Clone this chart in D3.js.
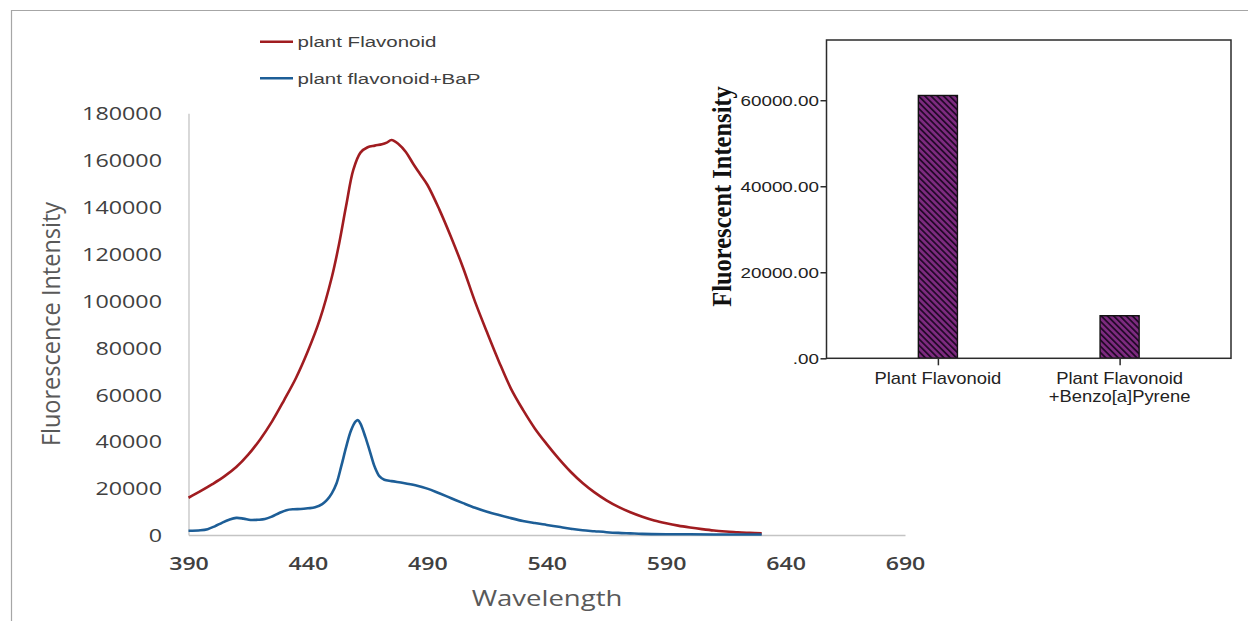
<!DOCTYPE html>
<html>
<head>
<meta charset="utf-8">
<script src="https://cdn.jsdelivr.net/npm/d3@7"></script>
<style>
  html, body { margin: 0; padding: 0; background: #fff; }
  svg { display: block; }
</style>
</head>
<body>
<svg id="chart" width="1248" height="621"></svg>
<script>
// ---- Emission spectra (wavelength in nm, intensity in counts) ----
const wlFlavonoid = [390,395,400,405,410,415,420,425,430,435,440,445,450,453,456,459,462,465,468,471,473,475,478,481,484,487,490,495,500,505,510,515,520,525,530,535,540,545,550,555,560,565,570,575,580,585,590,595,600,605,610,615,620,625,630];
const flavonoid = [15900,18700,21700,25000,29000,34300,40800,48500,57500,67000,78500,92000,110000,124000,140500,155800,163200,165500,166200,166800,167500,168600,166800,163500,158600,154000,149500,139000,127000,114000,99500,86500,74000,62500,53500,45500,38800,32600,27000,22200,18200,14800,12000,9700,7800,6200,5000,4000,3200,2500,1900,1500,1200,900,700];

const wlFlavonoidBaP = [390,395,398,401,404,407,410,413,416,419,422,425,428,431,434,437,440,443,446,448,450,452,454,456,458,460,461,462,464,466,468,470,472,475,480,485,490,495,500,505,510,515,520,525,530,535,540,545,550,555,560,565,570,575,580,590,600,615,630];
const flavonoidBaP = [1800,2000,2500,3700,5200,6500,7300,7000,6400,6500,6800,7900,9400,10600,11000,11100,11400,11800,13200,15000,17800,22100,29500,37500,44500,48500,49000,47500,42000,35500,29000,25000,23600,23000,22200,21200,19800,17800,15700,13600,11600,9900,8500,7200,6000,5100,4300,3500,2700,2000,1600,1200,900,700,500,350,300,200,200];

const seriesNames = ["plant Flavonoid", "plant flavonoid+BaP"];
const seriesColors = ["#a01c20", "#1d5e97"];

const xTickValues = [390,440,490,540,590,640,690];
const yTickValues = [0,20000,40000,60000,80000,100000,120000,140000,160000,180000];

// ---- Inset: mean fluorescent intensity per sample ----
const barCategories = [["Plant Flavonoid"], ["Plant Flavonoid", "+Benzo[a]Pyrene"]];
const barValues = [61100, 9900];
const barTickValues = [0, 20000, 40000, 60000];

const svg = d3.select("#chart");

// outer chart border
svg.append("path")
  .attr("d", "M11.5,621V10.5H1248")
  .attr("fill", "none")
  .attr("stroke", "#a6a6a6")
  .attr("stroke-width", 1.2);

// helper: place a text node with a horizontal stretch about its anchor point
function placeText(sel, x, y, sx, rot) {
  sel.attr("transform", `translate(${x},${y}) scale(${sx},1)` + (rot ? ` rotate(${rot})` : ""));
  return sel;
}

// ================= Spectra chart =================
const sansFont = "'Open Sans', 'Noto Sans', sans-serif";
const x = d3.scaleLinear().domain([390, 690]).range([188.5, 905]);
const y = d3.scaleLinear().domain([0, 180000]).range([535, 113.3]);

const gy = svg.append("g").attr("transform", "translate(188.5,0)")
  .call(d3.axisLeft(y).tickValues(yTickValues).tickSize(0).tickSizeOuter(0).tickFormat(d3.format("d")));
gy.select(".domain").attr("stroke", "#c4c4c4").attr("stroke-width", 1.3);
gy.selectAll(".tick text")
  .attr("x", null).attr("dy", "0.36em")
  .attr("font-family", sansFont).attr("font-size", 18.5)
  .attr("fill", "#404040").attr("text-anchor", "end")
  .attr("transform", "translate(-26.5,0) scale(1.26,1)");

const gx = svg.append("g").attr("transform", "translate(0,535)")
  .call(d3.axisBottom(x).tickValues(xTickValues).tickSize(0).tickSizeOuter(0).tickFormat(d3.format("d")));
gx.select(".domain").attr("stroke", "#c4c4c4").attr("stroke-width", 1.3);
gx.selectAll(".tick text")
  .attr("y", null).attr("dy", null)
  .attr("font-family", sansFont).attr("font-size", 18.5).attr("font-weight", 600)
  .attr("fill", "#404040").attr("text-anchor", "middle")
  .attr("transform", "translate(0,34.5) scale(1.25,1)");

placeText(svg.append("text"), 547, 606, 1.25)
  .attr("text-anchor", "middle")
  .attr("font-family", sansFont).attr("font-size", 22)
  .attr("fill", "#595959")
  .text("Wavelength");

placeText(svg.append("text"), 60, 324, 1.09, -90)
  .attr("text-anchor", "middle")
  .attr("font-family", sansFont).attr("font-size", 23.5)
  .attr("fill", "#595959")
  .text("Fluorescence Intensity");

const line = d3.line().x(d => x(d[0])).y(d => y(d[1])).curve(d3.curveCatmullRom.alpha(0.5));
const series = [
  d3.zip(wlFlavonoid, flavonoid),
  d3.zip(wlFlavonoidBaP, flavonoidBaP)
];
svg.append("g").selectAll("path")
  .data(series)
  .join("path")
  .attr("d", line)
  .attr("fill", "none")
  .attr("stroke", (d, i) => seriesColors[i])
  .attr("stroke-width", 2.6)
  .attr("stroke-linejoin", "round");

// legend
const legendY = [41.7, 78.3];
const legend = svg.append("g");
seriesNames.forEach((name, i) => {
  legend.append("line")
    .attr("x1", 260).attr("x2", 293)
    .attr("y1", legendY[i]).attr("y2", legendY[i])
    .attr("stroke", seriesColors[i]).attr("stroke-width", 2.6);
  placeText(legend.append("text"), 297.5, legendY[i] + 5.2, 1.34)
    .attr("font-family", "'Liberation Sans', Arial, sans-serif")
    .attr("font-size", 15.3)
    .attr("fill", "#404040")
    .text(name);
});

// ================= Inset bar chart =================
const insetFont = "'Liberation Sans', Arial, sans-serif";
const inset = { left: 826.5, right: 1231, top: 40, bottom: 358.3 };
const bx = d3.scalePoint().domain(d3.range(barValues.length))
  .range([inset.left, inset.right]).padding(0.613);
const by = d3.scaleLinear().domain([0, 74000]).range([inset.bottom, inset.top]);
const barW = bx.step() * 0.215;

const defs = svg.append("defs");
const pat = defs.append("pattern")
  .attr("id", "hatch")
  .attr("patternUnits", "userSpaceOnUse")
  .attr("width", 4.4).attr("height", 4.4)
  .attr("patternTransform", "rotate(-45)");
pat.append("rect").attr("width", 4.4).attr("height", 4.4).attr("fill", "#7e2b80");
pat.append("rect").attr("width", 1.8).attr("height", 4.4).attr("fill", "#24092a");

svg.append("g").selectAll("rect")
  .data(barValues)
  .join("rect")
  .attr("x", (d, i) => bx(i) - barW / 2)
  .attr("y", d => by(d))
  .attr("width", barW)
  .attr("height", d => by(0) - by(d))
  .attr("fill", "url(#hatch)")
  .attr("stroke", "#111")
  .attr("stroke-width", 1.4);

svg.append("rect")
  .attr("x", inset.left).attr("y", inset.top)
  .attr("width", inset.right - inset.left)
  .attr("height", inset.bottom - inset.top)
  .attr("fill", "none")
  .attr("stroke", "#2b2b2b")
  .attr("stroke-width", 1.5);

const iy = svg.append("g").attr("transform", `translate(${inset.left},0)`)
  .call(d3.axisLeft(by).tickValues(barTickValues).tickSize(6).tickPadding(2)
    .tickFormat(d => d === 0 ? ".00" : d3.format(".2f")(d)));
iy.select(".domain").remove();
iy.selectAll(".tick line").attr("stroke", "#2b2b2b").attr("stroke-width", 1.5);
iy.selectAll(".tick text")
  .attr("x", null).attr("dy", "0.36em")
  .attr("font-family", insetFont).attr("font-size", 14.5)
  .attr("fill", "#222").attr("text-anchor", "end")
  .attr("transform", "translate(-7.5,0) scale(1.3,1)");

const ix = svg.append("g").attr("transform", `translate(0,${inset.bottom})`)
  .call(d3.axisBottom(bx).tickSize(7).tickFormat(""));
ix.select(".domain").remove();
ix.selectAll(".tick line").attr("stroke", "#2b2b2b").attr("stroke-width", 1.5);

barCategories.forEach((lines, i) => {
  lines.forEach((t, j) => {
    placeText(svg.append("text"), bx(i), 383.5 + j * 18, 1.15)
      .attr("text-anchor", "middle")
      .attr("font-family", insetFont).attr("font-size", 16)
      .attr("fill", "#222")
      .text(t);
  });
});

svg.append("text")
  .attr("transform", "translate(731,196.5) scale(1.1,1) rotate(-90)")
  .attr("text-anchor", "middle")
  .attr("font-family", "'Liberation Serif', 'Times New Roman', serif")
  .attr("font-weight", "bold")
  .attr("font-size", 24.5)
  .attr("fill", "#111")
  .text("Fluorescent Intensity");
</script>
</body>
</html>
